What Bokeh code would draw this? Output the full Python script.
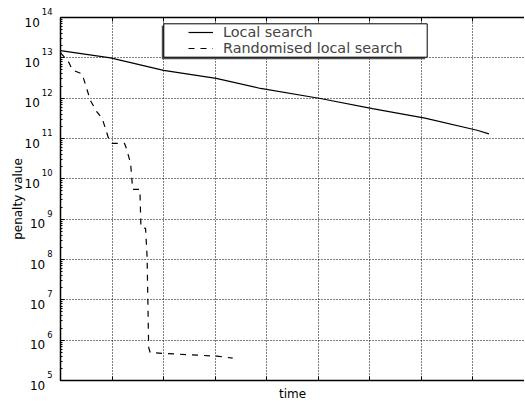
import math
from bokeh.plotting import figure
from bokeh.models import (LogTicker, FixedTicker, LinearAxis, LogAxis, BoxAnnotation, Grid,
                          Legend, LegendItem, Range1d, ColumnDataSource)
from bokeh.embed import file_html
from bokeh.resources import INLINE

# ---------------- data ----------------
ls_time = [0.00, 0.97, 2.00, 3.02, 3.88, 5.04, 6.05, 7.07, 8.08, 8.31]
ls_penalty = [1.51e13, 1.0e13, 4.9e12, 3.1e12, 1.74e12, 9.8e11, 5.5e11, 3.2e11, 1.6e11, 1.3e11]

rls_time = [0.00, 0.16, 0.23, 0.42, 0.45, 0.52, 0.58, 0.71, 0.81, 0.87, 0.94, 1.00,
            1.24, 1.28, 1.36, 1.40, 1.54, 1.56, 1.65, 1.68, 1.71, 1.74, 3.04, 3.34]
rls_penalty = [1.35e13, 7.8e12, 5.0e12, 4.0e12, 3.0e12, 1.55e12, 8.7e11, 4.5e11, 3.1e11,
               1.8e11, 9.3e10, 7.6e10, 7.6e10, 5.6e10, 2.4e10, 5.5e9, 5.5e9, 6.3e8, 5.9e8,
               1.15e8, 6.6e5, 4.9e5, 4.0e5, 3.6e5]

series_names = ["Local search", "Randomised local search"]
y_exponents = [5, 6, 7, 8, 9, 10, 11, 12, 13, 14]
x_ticks = [0, 1, 2, 3, 4, 5, 6, 7, 8, 9]
y_title = "penalty value"
x_title = "time"

FONT = "DejaVu Sans"
W, H = 524, 400
FRAME_L, FRAME_R, FRAME_T, FRAME_B = 60, 524, 17, 380   # plot area inside the canvas
X0, X1 = 0, 9
E0, E1 = 5, 14
Y0, Y1 = 10.0 ** E0, 10.0 ** E1
UNIT_PER_PX = (X1 - X0) / (FRAME_R - FRAME_L)
DEC_PER_PX = (E1 - E0) / (FRAME_B - FRAME_T)
XA = X0 - FRAME_L * UNIT_PER_PX
XB = X1 + (W - FRAME_R) * UNIT_PER_PX
YA = 10 ** (E0 - (H - FRAME_B) * DEC_PER_PX)
YB = 10 ** (E1 + FRAME_T * DEC_PER_PX)

# the frame covers the whole canvas; the axes sit at fixed data locations
p = figure(width=W, height=H, output_backend="svg", toolbar_location=None, title=None,
           x_axis_location=None, y_axis_location=None, y_axis_type="log",
           x_range=Range1d(XA, XB), y_range=Range1d(YA, YB),
           min_border_left=0, min_border_right=0, min_border_top=0, min_border_bottom=0)
p.outline_line_color = None
p.background_fill_color = "white"
p.border_fill_color = "white"
p.xgrid.visible = False
p.ygrid.visible = False

blank_x = {t: "" for t in x_ticks}
blank_y = {10.0 ** k: "" for k in y_exponents}

has_cross = "cross_bounds" in Grid.properties()

gx = Grid(dimension=0, ticker=FixedTicker(ticks=x_ticks[1:-1]), bounds=(X0, X1),
          grid_line_color="black", grid_line_dash="1 2", grid_line_width=1)
gy = Grid(dimension=1, ticker=FixedTicker(ticks=[10.0 ** k for k in y_exponents[1:-1]]),
          bounds=(Y0, Y1),
          grid_line_color="black", grid_line_dash="1 2", grid_line_width=1)
if has_cross:
    gx.cross_bounds = (Y0, Y1)
    gy.cross_bounds = (X0, X1)
p.add_layout(gx)
p.add_layout(gy)

axis_style = dict(major_label_standoff=0, major_tick_in=4, major_tick_out=0,
                  axis_line_width=1.5, axis_line_color="black",
                  major_tick_line_color="black")
bottom = LinearAxis(fixed_location=Y0, bounds=(X0, X1), ticker=FixedTicker(ticks=x_ticks),
                    major_label_overrides=blank_x, minor_tick_line_color=None, **axis_style)
top = LinearAxis(fixed_location=Y1, bounds=(X0, X1), ticker=FixedTicker(ticks=x_ticks),
                 major_label_overrides=blank_x, minor_tick_line_color=None, **axis_style)
left = LogAxis(fixed_location=X0, bounds=(Y0, Y1),
               ticker=LogTicker(num_minor_ticks=10, desired_num_ticks=10),
               major_label_overrides=blank_y, minor_tick_in=2, minor_tick_out=0,
               minor_tick_line_color="black", **axis_style)
p.add_layout(bottom, "below")
p.add_layout(top, "above")
p.add_layout(left, "left")

r1 = p.line(ls_time, ls_penalty, line_color="black", line_width=1.2)
r2 = p.line(rls_time, rls_penalty, line_color="black", line_width=1.2, line_dash="6 6")


def px_x(px):
    return XA + px * UNIT_PER_PX


def px_y(py):
    return 10 ** (math.log10(YB) - py * DEC_PER_PX)


if not has_cross:
    mask = dict(fill_color="white", fill_alpha=1, line_color=None, level="underlay")
    p.add_layout(BoxAnnotation(right=X0, **mask))
    p.add_layout(BoxAnnotation(bottom=Y1, **mask))
    p.add_layout(BoxAnnotation(top=Y0, **mask))

# legend frame with shadow
bx0, bx1, by0, by1 = 163.3, 426.7, 23.3, 56.7
p.add_layout(BoxAnnotation(left=px_x(bx0 - 2), right=px_x(bx1 - 2), top=px_y(by0 + 2),
                           bottom=px_y(by1 + 2), fill_color="#4d4d4d", fill_alpha=1,
                           line_color=None))
p.add_layout(BoxAnnotation(left=px_x(bx0), right=px_x(bx1), top=px_y(by0),
                           bottom=px_y(by1), fill_color="white", fill_alpha=1,
                           line_color="black", line_width=1, line_alpha=1))

legend = Legend(items=[LegendItem(label=series_names[0], renderers=[r1]),
                       LegendItem(label=series_names[1], renderers=[r2])],
                location=(188, H - 56), padding=0, spacing=0, margin=0,
                glyph_width=25, glyph_height=16, label_height=16, label_standoff=10,
                label_text_font=FONT, label_text_font_size="14.4px",
                border_line_color=None, background_fill_alpha=0)
p.add_layout(legend, "center")

# tick labels 10^k (base and raised exponent) and axis titles
EXP_GAP = FRAME_L - 52
exp_w = [5.34 * len(str(k)) for k in y_exponents]
base_src = ColumnDataSource(dict(x=[X0] * len(y_exponents),
                                 y=[10.0 ** k for k in y_exponents],
                                 xo=[-(EXP_GAP + w + 2) for w in exp_w],
                                 t=["10"] * len(y_exponents)))
exp_src = ColumnDataSource(dict(x=[X0] * len(y_exponents),
                                y=[10.0 ** k for k in y_exponents],
                                t=[str(k) for k in y_exponents]))
p.text(x="x", y="y", text="t", source=base_src, x_offset="xo", y_offset=4.5,
       text_align="right", text_baseline="middle", text_font={"value": FONT},
       text_font_size="12px", text_color="black")
p.text(x="x", y="y", text="t", source=exp_src, x_offset=-EXP_GAP, y_offset=-6,
       text_align="right", text_baseline="middle", text_font={"value": FONT},
       text_font_size="8.4px", text_color="black")
p.text(x=[X0], y=[10 ** ((E0 + E1) / 2)], text=[y_title], x_offset=-42.5, angle=math.pi / 2,
       text_align="center", text_baseline="middle", text_font={"value": FONT},
       text_font_size="12px", text_color="black")
p.text(x=[(X0 + X1) / 2], y=[Y0], text=[x_title], y_offset=13,
       text_align="center", text_baseline="middle", text_font={"value": FONT},
       text_font_size="12px", text_color="black")

open("out.html", "w").write(file_html(p, INLINE))
